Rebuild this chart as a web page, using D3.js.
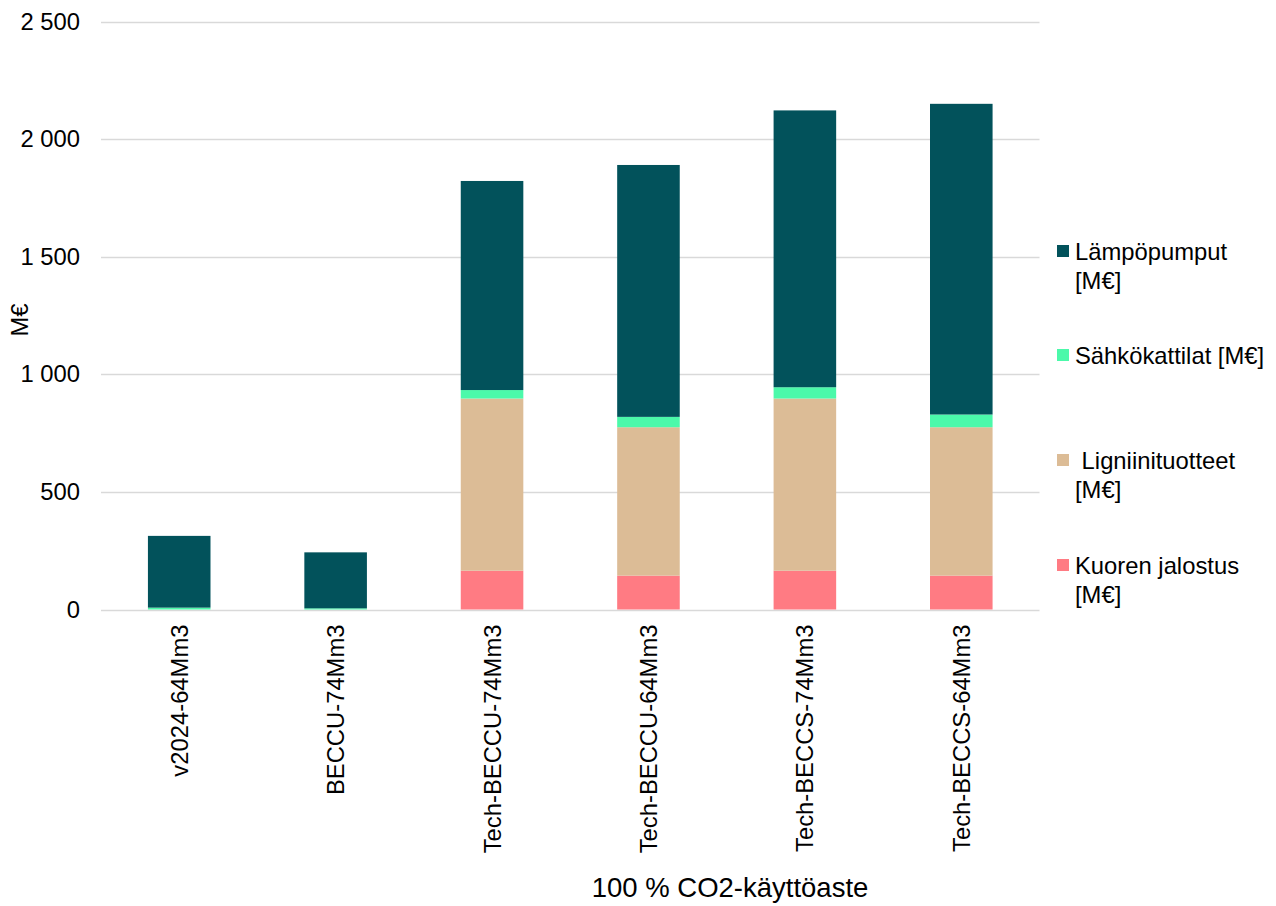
<!DOCTYPE html>
<html>
<head>
<meta charset="utf-8">
<script src="https://cdn.jsdelivr.net/npm/d3@7"></script>
<style>
  html, body { margin: 0; padding: 0; background: #ffffff; }
  svg { display: block; font-family: "Liberation Sans", Arial, sans-serif; }
</style>
</head>
<body>
<svg id="chart" width="1276" height="906"></svg>
<script>
// Scenarios along the x axis
const categories = [
  "v2024-64Mm3",
  "BECCU-74Mm3",
  "Tech-BECCU-74Mm3",
  "Tech-BECCU-64Mm3",
  "Tech-BECCS-74Mm3",
  "Tech-BECCS-64Mm3"
];

// Investment per product line, M€ (stacked bottom to top)
const kuorenJalostus   = [0,   0,   165, 144, 165, 144];
const ligniinituotteet = [0,   0,   732, 631, 732, 631];
const sahkokattilat    = [8,   5,   36,  44,  48,  54];
const lampopumput      = [305, 238, 889, 1071, 1177, 1321];

const seriesKeys   = ["kuoren", "lignin", "sahko", "lampo"];
const seriesColors = ["#ff7b83", "#dcbc96", "#4bf9aa", "#02525b"];

const yTicks = [0, 500, 1000, 1500, 2000, 2500];
const yTitle = "M€";
const xTitle = "100 % CO2-käyttöaste";

const rows = categories.map((c, i) => ({
  cat: c,
  kuoren: kuorenJalostus[i],
  lignin: ligniinituotteet[i],
  sahko: sahkokattilat[i],
  lampo: lampopumput[i]
}));

const FS = 23.8;
const svg = d3.select("#chart");
const plot = { left: 101, right: 1039.5, top: 21.5, bottom: 609.5 };

const x = d3.scaleBand()
  .domain(categories)
  .range([plot.left, plot.right])
  .paddingInner(0.6)
  .paddingOuter(0.3);

const y = d3.scaleLinear()
  .domain([0, 2500])
  .range([plot.bottom, plot.top]);

const fmt = v => d3.format(",")(v).replace(/,/g, " ");

// Horizontal gridlines
svg.append("g")
  .selectAll("line")
  .data(yTicks)
  .join("line")
  .attr("x1", plot.left)
  .attr("x2", plot.right)
  .attr("y1", d => Math.round(y(d)) + 0.5)
  .attr("y2", d => Math.round(y(d)) + 0.5)
  .attr("stroke", "#d9d9d9")
  .attr("stroke-width", 1.5);

// Y axis labels
const yAxis = d3.axisLeft(y).tickValues(yTicks).tickFormat(fmt).tickSize(0).tickPadding(0);
const gy = svg.append("g").attr("transform", `translate(80,0)`).call(yAxis);
gy.select(".domain").remove();
gy.selectAll("text")
  .attr("font-size", FS)
  .attr("fill", "#000")
  .attr("font-family", "Liberation Sans, Arial, sans-serif");

// Stacked bars
const stacked = d3.stack().keys(seriesKeys)(rows);

svg.append("g")
  .selectAll("g")
  .data(stacked)
  .join("g")
  .attr("fill", (d, i) => seriesColors[i])
  .selectAll("rect")
  .data(d => d)
  .join("rect")
  .attr("x", d => x(d.data.cat))
  .attr("width", x.bandwidth())
  .attr("y", d => y(d[1]))
  .attr("height", d => Math.max(0, y(d[0]) - y(d[1])));

// Category labels (rotated)
const xAxis = d3.axisBottom(x).tickSize(0).tickPadding(0);
const gx = svg.append("g").attr("transform", `translate(0,${plot.bottom})`).call(xAxis);
gx.select(".domain").remove();
gx.selectAll("text")
  .attr("font-size", FS)
  .attr("fill", "#000")
  .attr("font-family", "Liberation Sans, Arial, sans-serif")
  .attr("text-anchor", "end")
  .attr("dy", null)
  .attr("y", 0)
  .attr("transform", "translate(8.5,15) rotate(-90)");

// Axis titles
svg.append("text")
  .attr("x", 730)
  .attr("y", 897)
  .attr("text-anchor", "middle")
  .attr("font-size", 27.5)
  .attr("fill", "#000")
  .text(xTitle);

svg.append("text")
  .attr("transform", "translate(28,320) rotate(-90)")
  .attr("text-anchor", "middle")
  .attr("font-size", FS)
  .attr("fill", "#000")
  .text(yTitle);

// Legend (top entry is the top stack segment)
const legendItems = [
  { label: ["Lämpöpumput", "[M€]"], color: seriesColors[3], y: 251 },
  { label: ["Sähkökattilat [M€]"], color: seriesColors[2], y: 355 },
  { label: [" Ligniinituotteet", "[M€]"], color: seriesColors[1], y: 460 },
  { label: ["Kuoren jalostus", "[M€]"], color: seriesColors[0], y: 565 }
];

const items = svg.append("g").selectAll("g").data(legendItems).join("g")
  .attr("transform", d => `translate(1057,${d.y})`);
items.append("rect")
  .attr("x", 0).attr("y", -6)
  .attr("width", 12).attr("height", 12)
  .attr("fill", d => d.color);
items.append("text")
  .attr("y", 8.5)
  .attr("font-size", FS)
  .attr("fill", "#000")
  .style("white-space", "pre")
  .selectAll("tspan")
  .data(d => d.label)
  .join("tspan")
  .attr("x", 18)
  .attr("dy", (d, i) => i === 0 ? 0 : 29.5)
  .text(d => d);
</script>
</body>
</html>
